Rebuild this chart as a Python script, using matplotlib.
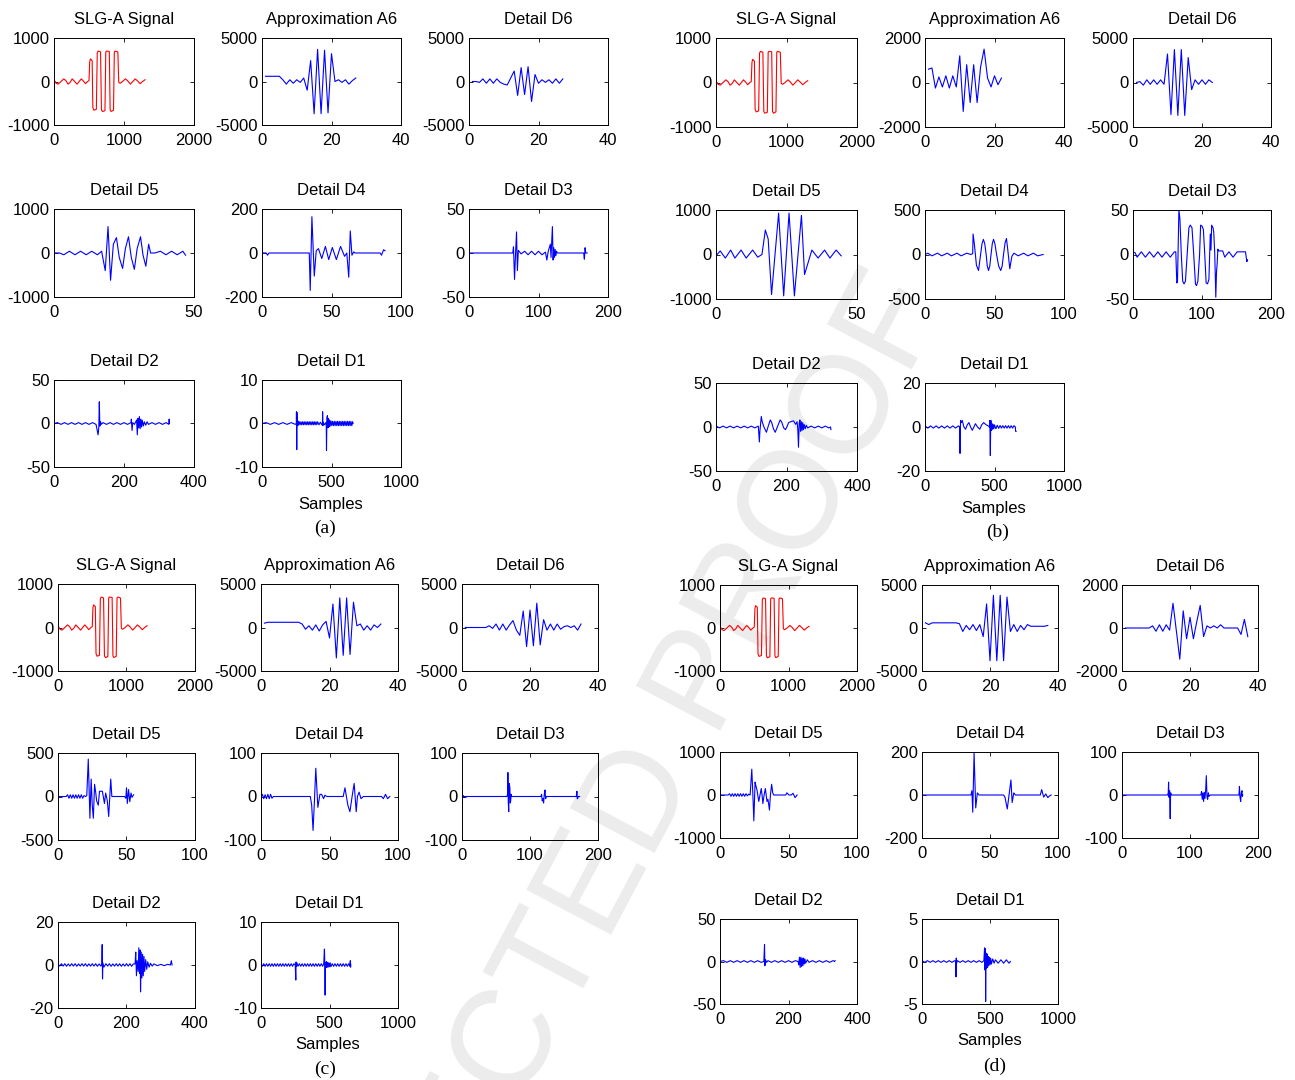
import numpy as np
import matplotlib
matplotlib.use("Agg")
import matplotlib.pyplot as plt

plt.rcParams['font.family'] = ['Liberation Sans', 'DejaVu Sans']
plt.rcParams['axes.unicode_minus'] = False

W, H = 1295, 1080

## ---------------- data ----------------

# SLG-A fault signal (same in all four panels), (sample, value)
slg = [(0, 40), (30, -40), (60, -60), (100, 0), (140, 60), (170, 20), (200, -60), (230, -20),
       (260, 60), (295, 0), (330, -60), (360, 0), (390, 60), (420, 10), (450, -50), (480, 0),
       (500, 20), (510, 450), (520, 520), (545, 480), (555, -600), (570, -660), (605, -640),
       (618, 660), (630, 700), (665, 680), (678, -650), (692, -690), (728, -670), (740, 680),
       (752, 700), (790, 690), (802, -650), (815, -690), (850, -660), (862, 680), (875, 700),
       (912, 680), (925, -20), (945, -40), (980, 0), (1020, 60), (1050, 20), (1090, -60),
       (1120, -10), (1160, 60), (1195, 10), (1230, -50), (1265, 0), (1300, 40)]

# approximation / level-6 detail coefficients, one value per index 1..N
a6_a = [600, 600, 600, 600, 600, 200, -300, 200, -200, 200, -100, 400, -1000, 2400, -3700,
        3700, -3700, 3600, -3600, 3200, 0, 200, -100, 200, -300, 100, 400]
d6_a = [0, 0, -100, 300, -200, 300, -200, 300, -100, -300, -400, 400, 1200, -1600, 1600,
        -1500, 1700, -2300, 800, -200, 200, -100, 200, -200, 300, -200, 300]
a6_b = [600, 650, -250, 250, -200, 300, -250, 300, -200, 1200, -1300, 800, -900, 800, -900,
        700, 1500, 200, -200, 300, -100, 200]
d6_b = [0, 100, -300, 300, -200, 300, -200, 300, -200, 3200, -3600, 3700, -3700, 3700, -3700,
        2800, -800, 300, -200, 300, -200, 300, 0]
a6_c = [500, 600, 600, 600, 600, 600, 600, 600, 600, 600, 600, 400, -200, 200, -300, 300,
        -400, 300, 700, -1200, 2700, -3500, 3400, -3200, 3400, -3100, 2900, 200, 400, -300,
        200, -300, 300, 0, 400]
d6_c = [0, 0, 0, 0, 0, 0, 0, 200, -100, 400, -300, 400, -300, 300, 800, -300, -900, 1900,
        -2200, 2000, -2100, 2800, -2000, 900, -300, 400, -300, 400, -200, 100, 200, 0, 200,
        -300, 400]
a6_d = [600, 400, 600, 600, 600, 600, 600, 600, 600, 600, 500, -400, 300, -200, 400, -300,
        400, -1000, 2800, -3800, 3800, -3800, 3800, -3800, 3600, -400, 400, -400, 300, -200,
        400, 200, 200, 200, 200, 200, 300]
d6_d = [0, 0, 0, 0, 0, 0, 0, 0, 100, -150, 150, -150, 150, -100, 1150, -150, -1450, 800,
        -500, 500, -500, 300, 1050, -400, 100, 0, 100, 0, 150, 0, 0, 0, 0, 0, -300, 400, -400]

# detail levels 5..1, (sample, value)
d5_a = [(0, 0), (2, 0), (3.5, -40), (5.5, 40), (7.5, -40), (9.5, 40), (11.5, -40), (13.5, 40),
        (15.5, -40), (17, 40), (18.3, -400), (19.3, 600), (20.2, -620), (21.2, 200), (22.3, 350),
        (23.3, -100), (24.5, -350), (25.5, 100), (26.6, 370), (27.6, -100), (28.7, -370),
        (29.7, 100), (30.9, 370), (31.8, -50), (32.8, -300), (33.8, 200), (34.5, 0), (36, 0),
        (38, 40), (40, -40), (42, 40), (44, -40), (46, 40), (47, -50)]
d4_a = [(0, 0), (3, 0), (4, -10), (5, 0), (34, 0), (34.7, -170), (35.9, 165), (37.6, -105),
        (39, 10), (40.6, 20), (43, -25), (45.6, 30), (48, -30), (50.6, 25), (53.5, -30),
        (56.5, 30), (59.4, -15), (61, 0), (62.4, -110), (63.5, 100), (64.7, -10), (66, 5),
        (67, 0), (85, 0), (86, -10), (87.5, 15), (88.5, 10)]
d3_a = [(0, 0), (63, 0), (64, 7), (65.5, -30), (67, 0), (68.4, 24), (69.6, -20), (71, 3),
        (75, -1), (80, 2), (85, -2), (90, 2), (95, -2), (100, 2), (105, -2), (110, 1), (112, -8),
        (114, 2), (117, 10), (118, -5), (120, 30), (121, -8), (122, 6), (123, -5), (124, 4),
        (125, -3), (126, 2), (127, 0), (165, 0), (166, -7), (167, 6), (168, 0), (170, 0)]
d2_a = [(0, 0), (10, 1), (20, -1), (30, 1), (40, -1), (50, 1), (60, -1), (70, 1), (80, -1),
        (90, 1), (100, -1), (110, 1), (120, -1), (126, -13), (128, -5), (129.5, 25), (131, -3),
        (133, 2), (135, -1), (140, 1), (150, -1), (160, 1), (170, -1), (180, 1), (190, -1),
        (200, 1), (210, -1), (220, 1), (221, 5), (223, -8), (225, 1), (230, -1), (236, 4),
        (238, -13), (240, 6), (242, -5), (244, 8), (246, -6), (248, 5), (250, -4), (252, 4),
        (255, -3), (258, 2), (262, -2), (266, 2), (270, -1), (280, 1), (290, -1), (300, 1),
        (310, -1), (320, 1), (328, -1), (329, 5), (330, 0)]
d1_a = [(0, 0), (30, 0.2), (60, -0.2), (90, 0.2), (120, -0.2), (150, 0.2), (180, -0.2),
        (210, 0.2), (240, -0.2), (247, 0), (248, 2.7), (250, -6), (252, 2.5), (254, -0.5),
        (258, 0.6), (262, -0.4), (268, 0.4), (274, -0.3), (280, 0.4), (286, -0.3), (292, 0.4),
        (298, -0.3), (304, 0.4), (310, -0.3), (316, 0.4), (322, -0.3), (328, 0.4), (334, -0.3),
        (340, 0.4), (346, -0.3), (352, 0.4), (358, -0.3), (364, 0.4), (370, -0.3), (376, 0.4),
        (382, -0.3), (388, 0.4), (394, -0.3), (400, 0.4), (410, -0.3), (420, 0.3), (430, -0.3),
        (435, 0), (436, 2.7), (438, -0.5), (440, 0.3), (450, -0.3), (462, 0.3), (464, -6.2),
        (467, 1), (470, 1.8), (474, -1), (478, 1.2), (482, -0.8), (486, 0.8), (490, -0.6),
        (496, 0.6), (502, -0.5), (508, 0.5), (514, -0.5), (520, 0.5), (526, -0.5), (532, 0.5),
        (538, -0.5), (544, 0.5), (550, -0.5), (556, 0.5), (562, -0.5), (568, 0.5), (574, -0.5),
        (580, 0.5), (586, -0.5), (592, 0.5), (598, -0.5), (604, 0.5), (610, -0.5), (616, 0.5),
        (622, -0.5), (628, 0.5), (634, -0.5), (640, 0.5), (646, -0.5), (652, 0.4), (655, 0)]

d5_b = [(0.4, 0), (1.5, 80), (3.3, -80), (5.2, 100), (6.7, -80), (8.9, 100), (10.7, -80),
        (13, 100), (14.8, -60), (16.3, 0), (17.5, 550), (18.5, 350), (19.7, -900), (22.2, 930),
        (24, -930), (25.9, 930), (27.8, -930), (30.3, 880), (31.4, -450), (34, 100), (36.2, -80),
        (38.5, 100), (40.4, -80), (42.6, 100), (44.4, -30)]
d4_b = [(0, 0), (2, 15), (5, -15), (9, 15), (12, -15), (16, 15), (19, -15), (23, 15), (26, -15),
        (30, 15), (33, 0), (34.3, 10), (34.6, 230), (35.5, 120), (37, -120), (38.5, -180),
        (40, 0), (41, 120), (42, 170), (43, 120), (44, 0), (44.8, -130), (45.7, -180),
        (46.6, -130), (47.5, 0), (48.4, 120), (49.3, 170), (50.3, 120), (51.5, 0), (53, -130),
        (54.5, -180), (55.5, -130), (56.5, 0), (57.6, 130), (58.6, 180), (59.5, 60), (61, -160),
        (62.5, -20), (64, 15), (67, -15), (71, 15), (74, -15), (78, 15), (81, -15), (85, 0)]
d3_b = [(0, 3), (3, 2), (6, -3), (12, 3), (18, -3), (24, 3), (30, -3), (36, 3), (42, -3),
        (48, 3), (54, -3), (60, 3), (62, 3), (63.5, -32), (64.5, -30), (66.5, 50), (68, 40),
        (70, 0), (72, -30), (74, -33), (76, -30), (78.5, 0), (81, 30), (83, 33), (85.5, 30),
        (88, 0), (90.5, -33), (92, -35), (94, -30), (96.5, 0), (98, 33), (100, 32), (102, 28),
        (104, 0), (106, -32), (108, -33), (110, -28), (112, 23), (113, 5), (114, 33), (116, 30),
        (117, 25), (118.5, 0), (120, -48), (121, -20), (122, -10), (123, 6), (124, 4), (126, 4),
        (130, 4), (133, -3), (139, 3), (145, -3), (151, 3), (157, 3), (160, 3), (163, 3),
        (165, -8), (166, -6)]
d2_b = [(0, 1), (10, -1), (20, 1), (30, -1), (40, 1), (50, -1), (60, 1), (70, -1), (80, 1),
        (90, -1), (100, 1), (110, -1), (120, 1), (123, -17), (124.5, -5), (128.5, 12), (131, 6),
        (136, 0), (143, -6), (149, 2), (154, 8), (158, 5), (163, -2), (168, -6), (174, 0),
        (182, 8), (186, 6), (192, -1), (197, -3), (201, 0), (206, 5), (212, 6), (220, 7),
        (226, 3), (230, 6), (232, -2), (234, -23), (236, 4), (238, 8), (240, -5), (242, 6),
        (244, -4), (246, 5), (248, -3), (250, 3), (253, -2), (256, 2), (260, -1), (270, 1),
        (280, -1), (290, 1), (300, -1), (310, 1), (320, -1), (325, 0), (326, -3)]
d1_b = [(0, 0.5), (20, -0.5), (40, 0.5), (60, -0.5), (80, 0.5), (100, -0.5), (120, 0.5),
        (140, -0.5), (160, 0.5), (180, -0.5), (200, 0.5), (220, -0.5), (240, 0.5), (250, 0),
        (252, -12), (254, -2), (256, 3), (262, 2), (268, 3), (280, 0), (292, -1), (304, 1),
        (316, 2), (328, 0), (340, -1.5), (352, 0), (363, 1.5), (378, 0), (394, -1), (408, 1),
        (422, 2), (440, 1), (455, 0.5), (464, 0), (466, 3), (468, -4), (470, -13), (472, -2),
        (474, 3), (478, -1.5), (482, 1.5), (486, -1), (490, 1.2), (495, -0.8), (500, 1),
        (510, -0.8), (520, 0.8), (530, -0.6), (540, 0.7), (550, -0.5), (560, 0.6), (570, -0.5),
        (580, 0.6), (590, -0.5), (600, 0.6), (610, -0.5), (620, 0.6), (630, -0.5), (640, 0.6),
        (650, 0), (652, -2), (655, -2)]

d5_c = [(1, 0), (6, 0), (7, 20), (8, -20), (9, 20), (10, -20), (11, 20), (12, -20), (13, 20),
        (14, -20), (15, 20), (16, -20), (17, 20), (18, -20), (19, 10), (20, 0), (21, 10),
        (22.1, 430), (23.3, -250), (24.2, 200), (25, -100), (25.8, -250), (26.7, 140),
        (27.5, 50), (28.2, -50), (29.4, -100), (30.3, 60), (31.2, 60), (32.4, 60), (33.9, -80),
        (34.8, 40), (36, -50), (37, -230), (38.5, 200), (39.3, 0), (40, 0), (48.5, 0),
        (49.5, -20), (50, 100), (50.6, -80), (51.5, 80), (52.4, -60), (53.3, 40), (54, -10),
        (55.2, 20)]
d4_c = [(0, 0), (1, 5), (2, -5), (3, 4), (4, -5), (5, 5), (6, -5), (7, 5), (8, -4), (9, 0),
        (36, 0), (37, -20), (38, -78), (39, -10), (40, 65), (41.5, -25), (43, 5), (44.2, 5),
        (45.7, -5), (46.6, 3), (48, 0), (60, 0), (61.3, 20), (63.4, -20), (64.9, -35),
        (66.5, 0), (68, 30), (69.5, -35), (70.4, 0), (71.6, 10), (73, -5), (74.7, 0), (88, 0),
        (89.3, -5), (90.9, 5), (92.4, -5), (94, 0)]
d3_c = [(0, 5), (1, -3), (2, 2), (3, -2), (4, 0), (66, 0), (67, 5), (67.5, 55), (68, -10),
        (68.7, -35), (69.5, 30), (70.4, 20), (71, -15), (71.6, -10), (72.3, 5), (73, 0),
        (116, 0), (117, 5), (118, -10), (119, -5), (120, -15), (121, 5), (122, 15), (123, -5),
        (124, 0), (168, 0), (169, 12), (169.5, -5), (170, -5), (171, 0), (173, 0)]
d2_c = [(0, 0.5), (5, -0.5), (10, 0.6), (15, -0.5), (20, 0.6), (25, -0.6), (30, 0.5), (35, -0.5),
        (40, 0.6), (45, -0.5), (50, 0.6), (55, -0.6), (60, 0.5), (65, -0.5), (70, 0.6),
        (75, -0.5), (80, 0.6), (85, -0.6), (90, 0.5), (95, -0.5), (100, 0.6), (105, -0.5),
        (110, 0.6), (115, -0.6), (120, 0.5), (125, -0.5), (128, 0.5), (129, 9.5), (130, -6.5),
        (131, 1), (134, -1), (140, 0.6), (145, -0.5), (150, 0.6), (155, -0.6), (160, 0.5),
        (165, -0.5), (170, 0.6), (175, -0.5), (180, 0.6), (185, -0.6), (190, 0.5), (195, -0.5),
        (200, 0.6), (205, -0.5), (210, 0.6), (215, -0.6), (220, 0.5), (225, 0.5), (227, 6),
        (229, -5), (231, 2), (234, -3), (236, 8), (238, -4), (240, 7), (241, -12.5), (243, 6),
        (245, -6), (247, 5), (249, -5), (251, 4), (253, -3), (256, 2.5), (259, -2), (262, 1.5),
        (266, -1), (270, 0.8), (275, -0.5), (280, 0.5), (290, -0.3), (300, 0.3), (310, -0.3),
        (320, 0.3), (328, 0), (331, 2), (333, 0)]
d1_c = [(0, 0.3), (10, -0.3), (20, 0.3), (30, -0.3), (40, 0.3), (50, -0.3), (60, 0.3),
        (70, -0.3), (80, 0.3), (90, -0.3), (100, 0.3), (110, -0.3), (120, 0.3), (130, -0.3),
        (140, 0.3), (150, -0.3), (160, 0.3), (170, -0.3), (180, 0.3), (190, -0.3), (200, 0.3),
        (210, -0.3), (220, 0.3), (230, -0.3), (240, 0.3), (250, 0), (254, -3.5), (256, 0.7),
        (258, -0.3), (262, 0.5), (270, -0.3), (280, 0.3), (290, -0.3), (300, 0.3), (310, -0.3),
        (320, 0.3), (330, -0.3), (340, 0.3), (350, -0.3), (360, 0.3), (370, -0.3), (380, 0.3),
        (390, -0.3), (400, 0.3), (410, -0.3), (420, 0.3), (430, -0.3), (440, 0.3), (450, -0.3),
        (458, 0.3), (463, 3.7), (466, 0), (468, -7), (470, 0.5), (474, -0.6), (478, 0.8),
        (482, -0.5), (486, 0.6), (490, -0.5), (495, 0.5), (500, -0.4), (505, 0.5), (510, -0.4),
        (520, 0.3), (530, -0.3), (540, 0.3), (550, -0.3), (560, 0.3), (570, -0.3), (580, 0.3),
        (590, -0.3), (600, 0.3), (610, -0.3), (620, 0.3), (630, -0.3), (640, 0.3), (648, -0.3),
        (652, 1), (654, -0.5), (655, 0.2)]

d5_d = [(0, 0), (6, 0), (7, 30), (8, -30), (9, 30), (10, -30), (11, 30), (12, -30), (13, 30),
        (14, -30), (15, 30), (16, -30), (17, 30), (18, -30), (19, 30), (20, -20), (21, 20),
        (22, 0), (23.2, 600), (24, 0), (24.7, -600), (25.6, 300), (26.3, 200), (27.1, 100),
        (27.8, -50), (28.3, -150), (29.2, 0), (30.1, 150), (30.7, 0), (31.3, -200), (32.2, 0),
        (33.1, 150), (33.7, 0), (34.3, -150), (35, -100), (36.1, -350), (36.8, 0), (37.7, 250),
        (38.5, 50), (39.2, 0), (48, 0), (48.8, 50), (50.3, 0), (52, 0), (53.3, 40), (54.8, -60),
        (56.3, 0)]
d4_d = [(0, 0), (36, 0), (36.7, 20), (37.3, -80), (38.3, 195), (39.5, -60), (40.7, 10),
        (41.9, 0), (60, 0), (61, -10), (62.7, -65), (64, 0), (65.4, 70), (66.3, -35), (67.5, 10),
        (68.7, 0), (87, 0), (88, 25), (89.5, -10), (91, 5), (92.5, -12), (94, -3), (95, 0)]
d3_d = [(0, 5), (1, -3), (2, 0), (67, 0), (68, 5), (68.5, 30), (69, -5), (70, 10), (70.9, -55),
        (71.5, 5), (72.7, 0), (116, 0), (117, 8), (118, -10), (119, 5), (120, -15), (121, 6),
        (122, -8), (123, 10), (124, 45), (125, -5), (126, -10), (127, 5), (128, -3), (130, 0),
        (172, 0), (172.7, 20), (173.5, -5), (174.5, -15), (175.5, 5), (176.5, 10), (177, -3),
        (177.6, 0)]
d2_d = [(0, 0), (10, 1), (20, -1), (30, 1), (40, -1), (50, 1), (60, -1), (70, 1), (80, -1),
        (90, 1), (100, -1), (110, 1), (120, -1), (128, 0), (130, 20), (131, -5), (133, 2),
        (136, -1), (140, 1), (150, -1), (160, 1), (170, -1), (180, 1), (190, -1), (200, 1),
        (210, -1), (220, 1), (228, 0), (230, -4), (232, 5), (234, -7), (236, 5), (238, -6),
        (240, 4), (242, -5), (244, 4), (246, -3), (248, 3), (250, -2), (255, 2), (260, -1),
        (270, 1), (280, -1), (290, 1), (300, -1), (310, 1), (320, -1), (330, 1), (335, 0),
        (336, 1)]
d1_d = [(0, 0.1), (20, -0.1), (40, 0.1), (60, -0.1), (80, 0.1), (100, -0.1), (120, 0.1),
        (140, -0.1), (160, 0.1), (180, -0.1), (200, 0.1), (220, -0.1), (240, 0.1), (248, 0),
        (250, -1.8), (252, 0.4), (254, -0.2), (260, 0.1), (280, -0.1), (300, 0.1), (320, -0.1),
        (340, 0.1), (360, -0.1), (380, 0.1), (400, -0.1), (420, 0.1), (440, -0.1), (455, 0.1),
        (460, 1.6), (462, -1), (465, 1.5), (467, 0), (468, -4.7), (470, 1), (474, -0.8),
        (478, 0.9), (482, -0.7), (486, 0.6), (490, -0.5), (495, 0.5), (500, -0.4), (505, 0.4),
        (510, -0.3), (520, 0.3), (530, -0.2), (540, 0.2), (560, -0.2), (580, 0.2), (600, -0.2),
        (620, 0.2), (640, -0.2), (650, 0)]

titles = ['SLG-A Signal', 'Approximation A6', 'Detail D6', 'Detail D5', 'Detail D4',
          'Detail D3', 'Detail D2', 'Detail D1']
panel_tags = ['(a)', '(b)', '(c)', '(d)']

# x-axis upper limits and y-axis half-ranges of each panel, in title order
xmax_ab = [2000, 40, 40, 50, 100, 200, 400, 1000]
xmax_cd = [2000, 40, 40, 100, 100, 200, 400, 1000]
ylim_a = [1000, 5000, 5000, 1000, 200, 50, 50, 10]
ylim_b = [1000, 2000, 5000, 1000, 500, 50, 50, 20]
ylim_c = [1000, 5000, 5000, 500, 100, 100, 20, 10]
ylim_d = [1000, 5000, 2000, 1000, 200, 100, 50, 5]

## ---------------- layout (pixels) ----------------
# per panel: column lefts/rights, row tops/bottoms
lay = {
    'a': dict(cols=[(54, 194), (262, 401), (469, 608)], rows=[(38, 125), (209, 297), (380, 467)],
              samples=(331, 505), tag=(325, 528)),
    'b': dict(cols=[(716, 857), (925, 1064), (1133, 1271)], rows=[(38, 127), (210, 299), (383, 471)],
              samples=(994, 509), tag=(998, 532)),
    'c': dict(cols=[(58, 195), (261, 398), (462, 598)], rows=[(584, 671), (753, 840), (922, 1008)],
              samples=(328, 1045), tag=(325, 1069)),
    'd': dict(cols=[(720, 857), (922, 1058), (1122, 1258)], rows=[(585, 671), (752, 838), (919, 1004)],
              samples=(990, 1041), tag=(995, 1066)),
}

panels = [
    ('a', [slg, a6_a, d6_a, d5_a, d4_a, d3_a, d2_a, d1_a], xmax_ab, ylim_a),
    ('b', [slg, a6_b, d6_b, d5_b, d4_b, d3_b, d2_b, d1_b], xmax_ab, ylim_b),
    ('c', [slg, a6_c, d6_c, d5_c, d4_c, d3_c, d2_c, d1_c], xmax_cd, ylim_c),
    ('d', [slg, a6_d, d6_d, d5_d, d4_d, d3_d, d2_d, d1_d], xmax_cd, ylim_d),
]


def as_xy(series):
    if isinstance(series[0], tuple):
        xy = np.array(series, dtype=float)
        return xy[:, 0], xy[:, 1]
    y = np.array(series, dtype=float)
    return np.arange(1, len(y) + 1), y


fig = plt.figure(figsize=(W / 100, H / 100), dpi=100)

# faint proof watermark
fig.text(0.147, -0.60, 'UNCORRECTED PROOF', rotation=62, rotation_mode='anchor',
         ha='left', va='baseline', fontsize=100, color='#ececec', zorder=-5,
         family='Liberation Sans')

for key, series, xmaxes, ylims in panels:
    L = lay[key]
    for i, s in enumerate(series):
        r, c = divmod(i, 3)
        left, right = L['cols'][c]
        top, bottom = L['rows'][r]
        ax = fig.add_axes([left / W, 1 - bottom / H, (right - left) / W, (bottom - top) / H])
        ax.patch.set_alpha(0)
        x, y = as_xy(s)
        ax.plot(x, y, color='r' if i == 0 else 'b', lw=0.8)
        xm, ym = xmaxes[i], ylims[i]
        ax.set_xlim(0, xm)
        ax.set_ylim(-ym, ym)
        if xm == 50:
            ax.set_xticks([0, 50])
        else:
            ax.set_xticks([0, xm / 2, xm])
            ax.set_xticklabels(['0', '%d' % (xm // 2), '%d' % xm])
        ax.set_yticks([-ym, 0, ym])
        ax.set_yticklabels(['-%d' % ym, '0', '%d' % ym])
        ax.tick_params(direction='in', length=3, width=0.6, top=True, right=True,
                       labelsize=12, pad=3)
        ax.tick_params(axis='x', pad=6)
        for sp in ax.spines.values():
            sp.set_linewidth(0.7)
        ax.set_title(titles[i], fontsize=12, pad=10)
    sx, sy = L['samples']
    fig.text(sx / W, 1 - sy / H, 'Samples', ha='center', va='center', fontsize=12)
    tx, ty = L['tag']
    fig.text(tx / W, 1 - ty / H, panel_tags['abcd'.index(key)], ha='center', va='center',
             fontsize=14, family='Liberation Serif')

fig.savefig('out.png', dpi=100)
